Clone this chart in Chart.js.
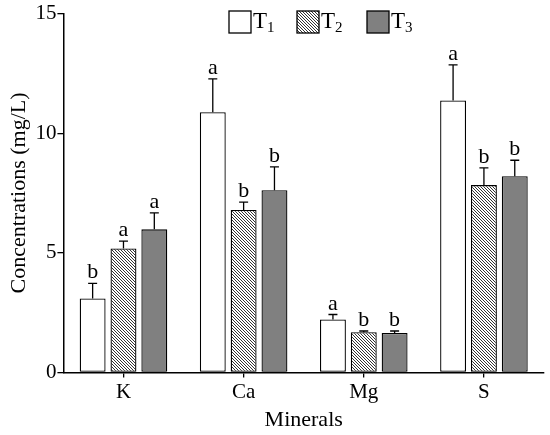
<!DOCTYPE html>
<html><head><meta charset="utf-8">
<script src="https://cdn.jsdelivr.net/npm/chart.js@4"></script>
<style>html,body{margin:0;padding:0;background:#fff}#wrap{width:550px;height:435px;position:relative}</style>
</head><body><div id="wrap"><canvas id="c"></canvas></div>
<script>
const categories = ['K', 'Ca', 'Mg', 'S'];
const seriesLabels = ['T1', 'T2', 'T3'];
const t1 = [3.09, 10.88, 2.21, 11.37];
const t2 = [5.18, 6.79, 1.68, 7.83];
const t3 = [5.98, 7.62, 1.65, 8.20];
const t1Err = [0.63, 1.39, 0.21, 1.49];
const t2Err = [0.31, 0.33, 0.05, 0.72];
const t3Err = [0.69, 0.97, 0.08, 0.67];
const t1Letters = ['b', 'a', 'a', 'a'];
const t2Letters = ['a', 'b', 'b', 'b'];
const t3Letters = ['a', 'b', 'b', 'b'];
const yTicks = [0, 5, 10, 15];

const FONT = '"Liberation Serif", "Times New Roman", serif';

const ctx0 = document.getElementById('c').getContext('2d');
const hatchPat = (function(){
  const s = 3;
  const c = document.createElement('canvas');
  c.width = s; c.height = s;
  const g = c.getContext('2d');
  g.fillStyle = '#fff'; g.fillRect(0, 0, s, s);
  g.strokeStyle = '#333'; g.lineWidth = 1;
  g.beginPath();
  g.moveTo(-1, -1); g.lineTo(s + 1, s + 1);
  g.moveTo(-1, s - 1); g.lineTo(1, s + 1);
  g.moveTo(s - 1, -1); g.lineTo(s + 1, 1);
  g.stroke();
  return ctx0.createPattern(c, 'repeat');
})();

const fills = ['#ffffff', hatchPat, '#808080'];
const errs = [t1Err, t2Err, t3Err];
const letters = [t1Letters, t2Letters, t3Letters];

const errPlugin = {
  id: 'errbars',
  afterDatasetsDraw(chart) {
    const g = chart.ctx, ys = chart.scales.y;
    g.save();
    g.strokeStyle = '#000'; g.lineWidth = 1.3;
    g.fillStyle = '#000';
    g.font = '22px ' + FONT;
    g.textAlign = 'center'; g.textBaseline = 'alphabetic';
    chart.data.datasets.forEach((ds, i) => {
      const meta = chart.getDatasetMeta(i);
      meta.data.forEach((bar, j) => {
        const v = ds.data[j];
        const top = ys.getPixelForValue(v + errs[i][j]);
        g.beginPath();
        g.moveTo(bar.x, bar.y); g.lineTo(bar.x, top);
        g.moveTo(bar.x - 4.5, top); g.lineTo(bar.x + 4.5, top);
        g.stroke();
        g.fillText(letters[i][j], bar.x, top - 5);
      });
    });
    g.restore();
  }
};

const legendPlugin = {
  id: 'mylegend',
  afterDraw(chart) {
    const g = chart.ctx;
    const xs = [229, 297, 367];
    g.save();
    chart.data.datasets.forEach((ds, i) => {
      const x = xs[i], y = 11;
      g.fillStyle = fills[i];
      g.fillRect(x, y, 22, 22);
      g.strokeStyle = '#000'; g.lineWidth = 1.3;
      g.strokeRect(x, y, 22, 22);
      g.fillStyle = '#000';
      g.textAlign = 'left'; g.textBaseline = 'alphabetic';
      const lbl = seriesLabels[i];
      g.font = '23px ' + FONT;
      g.fillText(lbl[0], x + 24, 28);
      const w = g.measureText(lbl[0]).width;
      g.font = '15px ' + FONT;
      g.fillText(lbl.slice(1), x + 24 + w, 32);
    });
    g.restore();
  }
};

new Chart(document.getElementById('c'), {
  type: 'bar',
  data: {
    labels: categories,
    datasets: [
      { label: seriesLabels[0], data: t1, backgroundColor: fills[0] },
      { label: seriesLabels[1], data: t2, backgroundColor: fills[1] },
      { label: seriesLabels[2], data: t3, backgroundColor: fills[2] }
    ].map(d => Object.assign(d, { borderColor: '#000', borderWidth: 1.3, borderSkipped: false }))
  },
  options: {
    responsive: true, maintainAspectRatio: false, animation: false,
    devicePixelRatio: 1,
    layout: { padding: { top: 6, right: 6, left: 6, bottom: 2 } },
    datasets: { bar: { barPercentage: 0.84, categoryPercentage: 0.77 } },
    plugins: { legend: { display: false }, tooltip: { enabled: false } },
    scales: {
      x: {
        grid: { display: true, drawOnChartArea: false, offset: false, color: '#000', tickLength: 5, lineWidth: 1.3 },
        border: { color: '#000', width: 1.5 },
        ticks: { color: '#000', font: { family: FONT, size: 21 }, padding: 2 },
        title: { display: true, text: 'Minerals', color: '#000', font: { family: FONT, size: 22 }, padding: { top: 0, bottom: 0 } }
      },
      y: {
        min: 0, max: 15,
        afterBuildTicks(s) { s.ticks = yTicks.map(v => ({ value: v })); },
        grid: { display: true, drawOnChartArea: false, color: '#000', tickLength: 6, lineWidth: 1.3 },
        border: { color: '#000', width: 1.5 },
        ticks: { color: '#000', font: { family: FONT, size: 21 }, padding: 1 },
        title: { display: true, text: 'Concentrations (mg/L)', color: '#000', font: { family: FONT, size: 22 }, padding: { top: 0, bottom: 2 } }
      }
    }
  },
  plugins: [errPlugin, legendPlugin]
});
</script>
</body></html>
